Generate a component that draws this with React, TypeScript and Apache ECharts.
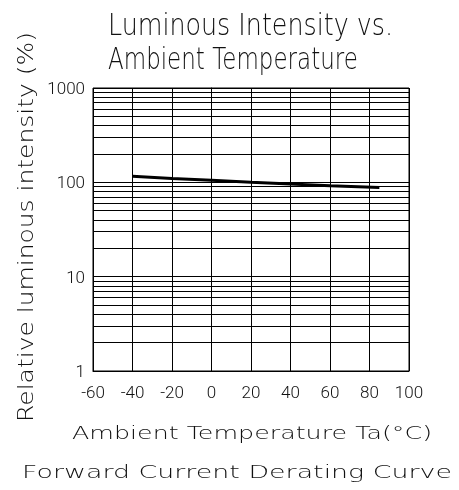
import React, { useEffect, useRef } from "react";
import * as echarts from "echarts";

// Data
const temperatures = [-40, -20, 0, 20, 40, 60, 85];
const relativeIntensity = [116, 110, 105, 100, 96, 92, 88];
const yMinorGrid = [2, 3, 4, 5, 6, 7, 8, 9, 20, 30, 40, 50, 60, 70, 80, 90, 200, 300, 400, 500, 600, 700, 800, 900];
const titleLines = ["Luminous Intensity vs.", "Ambient Temperature"];
const xAxisName = "Ambient Temperature Ta(°C)";
const yAxisName = "Relative luminous intensity (%)";
const footer = "Forward Current Derating Curve";

const GFONT = '"DejaVu Sans"';
const TICKFONT = '"Liberation Sans Narrow", Roboto, sans-serif';

function fitScale(text: string, weight: number, size: number, target: number) {
  const c = document.createElement("canvas");
  const ctx = c.getContext("2d");
  if (!ctx) return 1;
  ctx.font = `${weight} ${size}px ${GFONT}`;
  const w = ctx.measureText(text).width;
  return w > 0 ? target / w : 1;
}

function txt(text: string, x: number, y: number, size: number, width: number, align: string, rotation = 0) {
  const weight = 200;
  return {
    type: "text",
    x,
    y,
    rotation,
    scaleX: fitScale(text, weight, size, width),
    silent: true,
    style: {
      text,
      fontSize: size,
      fontFamily: GFONT,
      fontWeight: weight,
      fill: "#111",
      align,
      textAlign: align,
      verticalAlign: "middle",
      textVerticalAlign: "middle",
    },
  };
}

export default function App() {
  const ref = useRef<HTMLDivElement>(null);
  useEffect(() => {
    if (!ref.current) return;
    const chart = echarts.init(ref.current, undefined, { renderer: "svg" });
    chart.setOption({
      animation: false,
      grid: { left: 93, right: 50, top: 88, bottom: 119, show: true, borderColor: "#000", borderWidth: 1 },
      xAxis: {
        type: "value",
        min: -60,
        max: 100,
        interval: 20,
        axisLine: { show: true, lineStyle: { color: "#000", width: 1 } },
        axisTick: { show: false },
        splitLine: { show: true, lineStyle: { color: "#000", width: 1 } },
        axisLabel: { color: "#111", fontSize: 17, fontWeight: 300, fontFamily: TICKFONT, margin: 12 },
      },
      yAxis: {
        type: "log",
        logBase: 10,
        min: 1,
        max: 1000,
        axisLine: { show: true, lineStyle: { color: "#000", width: 1 } },
        axisTick: { show: false },
        splitLine: { show: true, lineStyle: { color: "#000", width: 1 } },
        axisLabel: {
          color: "#111",
          fontSize: 17,
          fontWeight: 300,
          fontFamily: TICKFONT,
          margin: 8,
          formatter: (v: number) => String(Math.round(v)),
        },
      },
      series: [
        {
          type: "line",
          data: temperatures.map((t, i) => [t, relativeIntensity[i]]),
          symbol: "none",
          lineStyle: { color: "#000", width: 3 },
          z: 5,
          markLine: {
            silent: true,
            symbol: "none",
            label: { show: false },
            lineStyle: { color: "#000", width: 1, type: "solid" },
            data: yMinorGrid.map((v) => ({ yAxis: v })),
            z: 1,
          },
        },
      ],
      graphic: [
        txt(titleLines[0], 108, 25, 30, 285, "left"),
        txt(titleLines[1], 108, 58, 30, 250, "left"),
        txt(yAxisName, 26, 227, 21, 390, "center", Math.PI / 2),
        txt(xAxisName, 252, 433, 18, 360, "center"),
        txt(footer, 237, 472, 17, 430, "center"),
      ],
    });
    return () => chart.dispose();
  }, []);
  return <div ref={ref} style={{ position: "fixed", left: 0, top: 0, width: 459, height: 490 }} />;
}
